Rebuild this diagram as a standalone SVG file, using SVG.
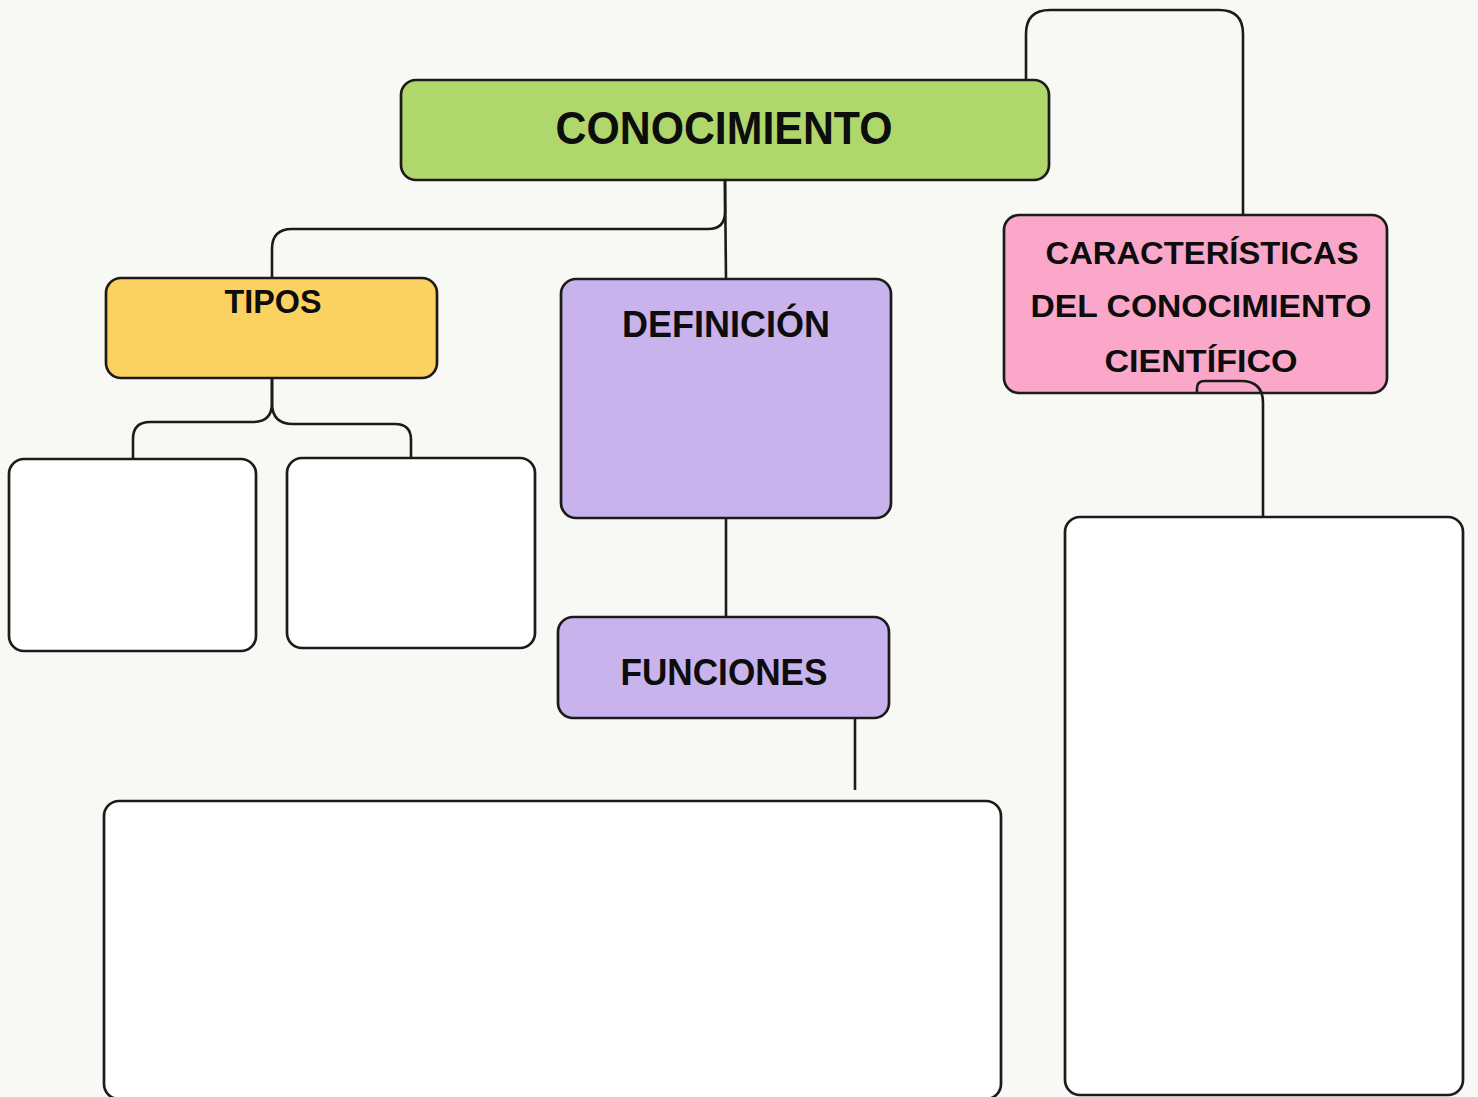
<svg xmlns="http://www.w3.org/2000/svg" width="1478" height="1097" viewBox="0 0 1478 1097">
<style>
.box{stroke:#1b1b1b;stroke-width:2.7}
.conn{fill:none;stroke:#1b1b1b;stroke-width:2.6}
.lbl{font-family:"Liberation Sans","DejaVu Sans",sans-serif;font-weight:700;fill:#0d0d0d;text-anchor:middle}
</style>
<rect x="0" y="0" width="1478" height="1097" fill="#f8f9f5"/>
<g id="node-conocimiento">
<rect class="box" x="401" y="80" width="648" height="100" rx="15" fill="#b0d76b"/>
<text class="lbl" x="724" y="144" font-size="46" textLength="337" lengthAdjust="spacingAndGlyphs">CONOCIMIENTO</text>
</g>
<g id="node-tipos">
<rect class="box" x="106" y="278" width="331" height="100" rx="15" fill="#fbd160"/>
<text class="lbl" x="273" y="313" font-size="33" textLength="97" lengthAdjust="spacingAndGlyphs">TIPOS</text>
</g>
<g id="node-tipo1">
<rect class="box" x="9" y="459" width="247" height="192" rx="15" fill="#ffffff"/>
</g>
<g id="node-tipo2">
<rect class="box" x="287" y="458" width="248" height="190" rx="15" fill="#ffffff"/>
</g>
<g id="node-definicion">
<rect class="box" x="561" y="279" width="330" height="239" rx="15" fill="#c8b3ec"/>
<text class="lbl" x="726" y="337" font-size="37" textLength="208" lengthAdjust="spacingAndGlyphs">DEFINICIÓN</text>
</g>
<g id="node-funciones">
<rect class="box" x="558" y="617" width="331" height="101" rx="15" fill="#c8b3ec"/>
<text class="lbl" x="724" y="685" font-size="37" textLength="207" lengthAdjust="spacingAndGlyphs">FUNCIONES</text>
</g>
<g id="node-funciones-detalle">
<rect class="box" x="104" y="801" width="897" height="298" rx="15" fill="#ffffff"/>
</g>
<g id="node-caracteristicas">
<rect class="box" x="1004" y="215" width="383" height="178" rx="15" fill="#fba7c9"/>
<text class="lbl" x="1202" y="264" font-size="32" textLength="313" lengthAdjust="spacingAndGlyphs">CARACTERÍSTICAS</text>
<text class="lbl" x="1201" y="317" font-size="32" textLength="341" lengthAdjust="spacingAndGlyphs">DEL CONOCIMIENTO</text>
<text class="lbl" x="1201" y="372" font-size="32" textLength="193" lengthAdjust="spacingAndGlyphs">CIENTÍFICO</text>
</g>
<g id="node-caracteristicas-detalle">
<rect class="box" x="1065" y="517" width="398" height="578" rx="15" fill="#ffffff"/>
</g>
<g id="connectors">
<path class="conn" d="M1026,80 V34 Q1026,10 1050,10 H1219 Q1243,10 1243,34 V214"/>
<path class="conn" d="M725,180 V212 Q725,229 708,229 H292 Q272,229 272,249 V278"/>
<path class="conn" d="M725,180 L726,279"/>
<path class="conn" d="M272,378 V403 Q272,422 253,422 H150 Q133,422 133,439 V459"/>
<path class="conn" d="M272,378 V403 Q272,424 293,424 H395 Q411,424 411,440 V458"/>
<path class="conn" d="M726,518 V618"/>
<path class="conn" d="M855,718 V790"/>
<path class="conn" d="M1197,393 V388 Q1197,381 1205,381 H1241 Q1263,381 1263,403 V517"/>
</g>
</svg>
